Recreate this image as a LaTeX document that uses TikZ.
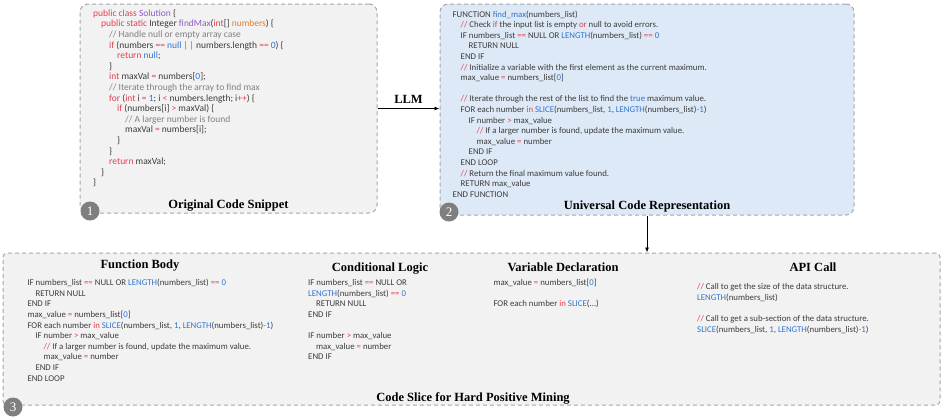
\documentclass[tikz,border=0pt]{standalone}
\usepackage{fontspec}
\setmainfont{Liberation Serif}
\newfontfamily\codefont{Carlito}
\usetikzlibrary{arrows.meta}
\definecolor{kred}{HTML}{E2404F}
\definecolor{kblue}{HTML}{2F74D0}
\definecolor{kpurple}{HTML}{8E5BC8}
\definecolor{korange}{HTML}{E67E22}
\definecolor{kcomment}{HTML}{808080}
\definecolor{codetext}{HTML}{3C3C3C}
\definecolor{boxgray}{HTML}{F2F2F2}
\definecolor{boxblue}{HTML}{DDE9F6}
\definecolor{dashgray}{HTML}{A6A6A6}
\definecolor{badgegray}{HTML}{7F7F7F}
\newcommand\cR[1]{\textcolor{kred}{#1}}
\newcommand\cB[1]{\textcolor{kblue}{#1}}
\newcommand\cP[1]{\textcolor{kpurple}{#1}}
\newcommand\cO[1]{\textcolor{korange}{#1}}
\newcommand\cG[1]{\textcolor{kcomment}{#1}}
\newcommand\iA{\hspace*{8pt}}
\newcommand\iB{\hspace*{16pt}}
\newcommand\iC{\hspace*{24pt}}
\newcommand\iD{\hspace*{32pt}}
\tikzset{
  panel/.style={draw=dashgray, line width=1pt, dash pattern=on 4pt off 3pt, inner sep=0pt},
  code/.style={anchor=base west, align=left, inner sep=0pt, text=codetext,
    font={\codefont\fontsize{8.8}{10.6}\selectfont}},
  bigcode/.style={code, font={\codefont\fontsize{9.5}{10.6}\selectfont}},
  ttl/.style={anchor=base, inner sep=0pt, font={\fontsize{12.5}{14}\selectfont\bfseries}},
  badge/.style={circle, fill=badgegray, minimum size=19pt, inner sep=0pt, text=white,
    font={\fontsize{13}{14}\selectfont}},
  conn/.style={-{Latex[length=5pt,width=4pt]}, line width=0.8pt, black}
}
\begin{document}
\begin{tikzpicture}[x=1pt,y=-1pt]
\useasboundingbox (0,0) rectangle (941,416);
% panels
\node[panel, fill=boxgray, rounded corners=8pt, minimum width=297pt, minimum height=209pt] (b1) at (228.5,108.5) {};
\node[panel, fill=boxblue, rounded corners=8pt, minimum width=414pt, minimum height=211pt] (b2) at (647,109.5) {};
\node[panel, fill=boxgray, rounded corners=4pt, minimum width=937pt, minimum height=152pt] (b3) at (471.5,329) {};
% original code (anchor = baseline of last line)
\node[bigcode] (c1) at (93,185.9) {\cR{public class} \cP{Solution} \{\\
\iA\cR{public static} Integer \cP{findMax}(\cR{int}[] \cO{numbers}) \{\\
\iB\cG{// Handle null or empty array case}\\
\iB\cR{if} (numbers \cR{==} \cB{null} \cR{|\,|} numbers.length \cR{==} \cB{0}) \{\\
\iC\cR{return} \cB{null};\\
\iB\}\\
\iB\cR{int} maxVal \cR{=} numbers[\cB{0}];\\
\iB\cG{// Iterate through the array to find max}\\
\iB\cR{for} (\cR{int} i \cR{=} \cB{1}; i \cR{<} numbers.length; i\cR{++}) \{\\
\iC\cR{if} (numbers[i] \cR{>} maxVal) \{\\
\iD\cG{// A larger number is found}\\
\iD maxVal \cR{=} numbers[i];\\
\iC\}\\
\iB\}\\
\iB\cR{return} maxVal;\\
\iA\}\\
\}};
% universal representation
\node[code] (c2) at (452.5,197.2) {FUNCTION \cB{find\_max}(numbers\_list)\\
\iA\cR{//} Check \cR{if} the input list is empty \cR{or} null to avoid errors.\\
\iA IF numbers\_list \cR{==} NULL OR \cB{LENGTH}(numbers\_list) \cR{==} \cB{0}\\
\iB RETURN NULL\\
\iA END IF\\
\iA\cR{//} Initialize a variable with the first element as the current maximum.\\
\iA max\_value \cR{=} numbers\_list[\cB{0}]\\[10.6pt]
\iA\cR{//} Iterate through the rest of the list to find the \cB{true} maximum value.\\
\iA FOR each number \cR{in} \cB{SLICE}(numbers\_list, \cB{1}, \cB{LENGTH}(numbers\_list)\cR{-}\cB{1})\\
\iB IF number \cR{>} max\_value\\
\iC\cR{//} If a larger number is found, update the maximum value.\\
\iC max\_value \cR{=} number\\
\iB END IF\\
\iA END LOOP\\
\iA\cR{//} Return the final maximum value found.\\
\iA RETURN max\_value\\
END FUNCTION};
% function body
\node[code] (c3) at (27.3,381.1) {IF numbers\_list \cR{==} NULL OR \cB{LENGTH}(numbers\_list) \cR{==} \cB{0}\\
\iA RETURN NULL\\
END IF\\
max\_value \cR{=} numbers\_list[\cB{0}]\\
FOR each number \cR{in} \cB{SLICE}(numbers\_list, \cB{1}, \cB{LENGTH}(numbers\_list)\cR{-}\cB{1})\\
\iA IF number \cR{>} max\_value\\
\iB\cR{//} If a larger number is found, update the maximum value.\\
\iB max\_value \cR{=} number\\
\iA END IF\\
END LOOP};
% conditional logic
\node[code] (c4) at (308,359.9) {IF numbers\_list \cR{==} NULL OR\\
\cB{LENGTH}(numbers\_list) \cR{==} \cB{0}\\
\iA RETURN NULL\\
END IF\\[10.6pt]
IF number \cR{>} max\_value\\
\iA max\_value \cR{=} number\\
END IF};
% variable declaration
\node[code] (c5) at (493.3,306.9) {max\_value \cR{=} numbers\_list[\cB{0}]\\[10.6pt]
FOR each number \cR{in} \cB{SLICE}(...)};
% api call
\node[code] (c6) at (697,332.1) {\cR{//} Call to get the size of the data structure.\\
\cB{LENGTH}(numbers\_list)\\[10.6pt]
\cR{//} Call to get a sub-section of the data structure.\\
\cB{SLICE}(numbers\_list, \cB{1}, \cB{LENGTH}(numbers\_list)\cR{-}\cB{1})};
% titles
\node[ttl] (t1) at (228.5,208.5) {Original Code Snippet};
\node[ttl] (t2) at (647,209.5) {Universal Code Representation};
\node[ttl] (t3) at (140,268.5) {Function Body};
\node[ttl] (t4) at (380,271.8) {Conditional Logic};
\node[ttl] (t5) at (563,271.8) {Variable Declaration};
\node[ttl] (t6) at (813,271.8) {API Call};
\node[ttl] (t7) at (473,401) {Code Slice for Hard Positive Mining};
% badges
\node[badge] (n1) at (90,211) {1};
\node[badge] (n2) at (449,212) {2};
\node[badge] (n3) at (13,407) {3};
% connectors
\draw[conn] (b1.east) -- (b1.east -| b2.west) node[midway, above=5pt, inner sep=0pt, font={\fontsize{12.5}{14}\selectfont\bfseries}] (llm) {LLM};
\draw[conn] (b2.south) -- (b2.south |- b3.north);
\end{tikzpicture}
\end{document}
